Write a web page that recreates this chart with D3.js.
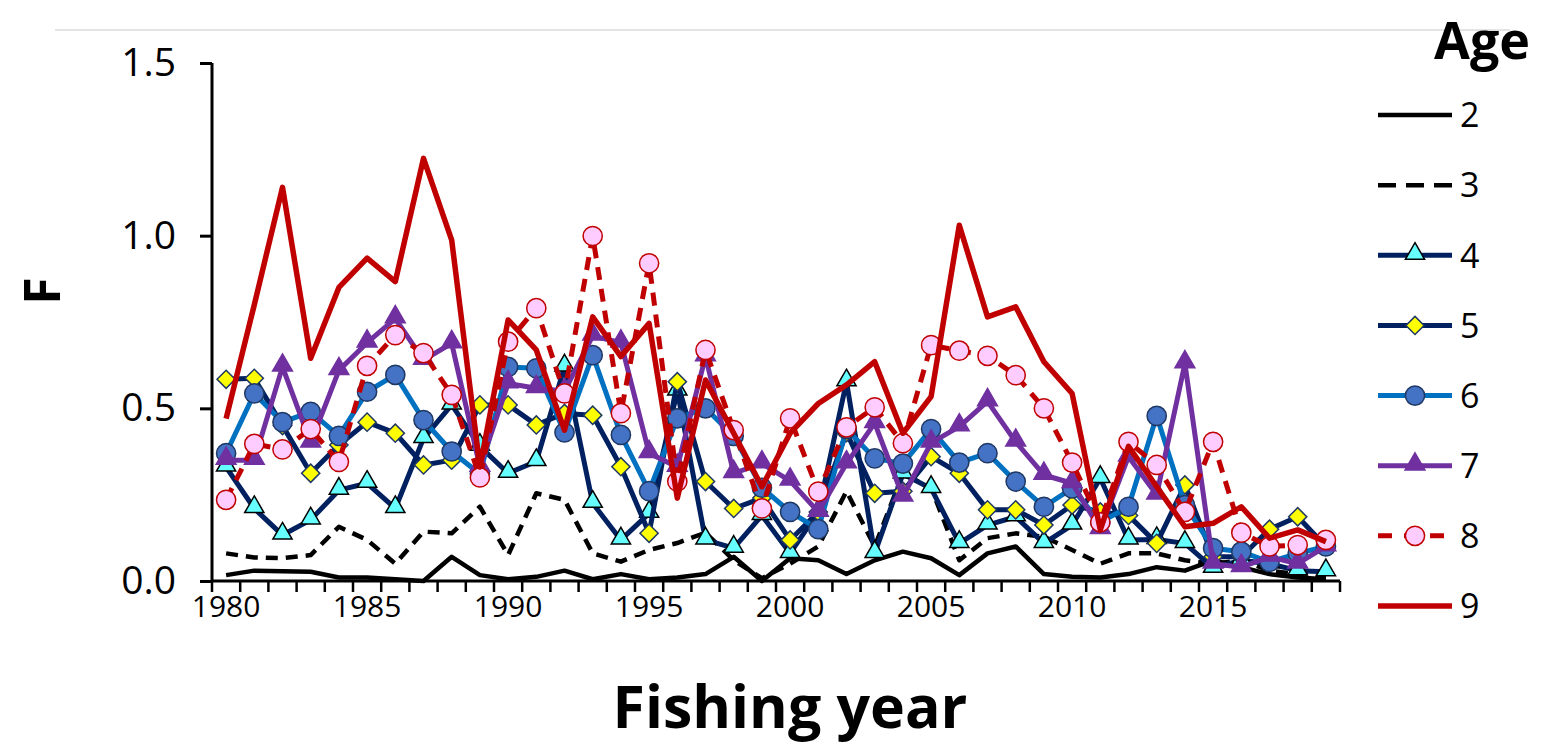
<!DOCTYPE html>
<html><head><meta charset="utf-8">
<script src="https://cdn.jsdelivr.net/npm/d3@7"></script>
<style>
body{margin:0;background:#fff;}
svg{display:block;font-family:"Open Sans",sans-serif;}
</style></head>
<body><svg id="c" width="1542" height="747"></svg>
<script>
const years = d3.range(1980, 2020);
const yTicks = [0, 0.5, 1.0, 1.5];
const xTickYears = [1980,1985,1990,1995,2000,2005,2010,2015];
const ages = ["2","3","4","5","6","7","8","9"];

const age2 = [0.017,0.03,0.028,0.027,0.01,0.01,0.005,0.0,0.07,0.017,0.005,0.012,0.03,0.005,0.02,0.005,0.01,0.02,0.07,0.0,0.066,0.06,0.02,0.06,0.085,0.066,0.017,0.08,0.1,0.02,0.012,0.01,0.02,0.04,0.03,0.06,0.04,0.02,0.01,0.005];
const age3 = [0.08,0.068,0.066,0.075,0.157,0.119,0.05,0.143,0.138,0.215,0.075,0.254,0.235,0.08,0.056,0.09,0.11,0.14,0.06,0.008,0.05,0.1,0.26,0.1,0.31,0.27,0.06,0.124,0.138,0.128,0.09,0.05,0.08,0.08,0.06,0.05,0.06,0.03,0.02,0.01];
const age4 = [0.33,0.21,0.133,0.177,0.263,0.283,0.21,0.413,0.51,0.39,0.312,0.346,0.62,0.225,0.119,0.196,0.55,0.119,0.095,0.19,0.08,0.2,0.577,0.08,0.31,0.268,0.109,0.162,0.186,0.109,0.162,0.297,0.119,0.12,0.109,0.037,0.06,0.05,0.03,0.027];
const age5 = [0.584,0.587,0.45,0.312,0.394,0.46,0.428,0.336,0.35,0.51,0.51,0.452,0.485,0.48,0.331,0.138,0.577,0.288,0.21,0.24,0.119,0.2,0.43,0.254,0.26,0.36,0.312,0.206,0.206,0.162,0.22,0.2,0.19,0.109,0.278,0.07,0.07,0.15,0.186,0.1];
const age6 = [0.37,0.543,0.46,0.49,0.42,0.548,0.597,0.466,0.375,0.31,0.62,0.616,0.43,0.654,0.423,0.26,0.471,0.5,0.42,0.27,0.2,0.15,0.44,0.355,0.34,0.44,0.343,0.37,0.288,0.215,0.268,0.17,0.215,0.478,0.22,0.095,0.085,0.055,0.08,0.1];
const age7 = [0.35,0.35,0.62,0.40,0.61,0.69,0.76,0.64,0.688,0.33,0.572,0.558,0.55,0.71,0.69,0.37,0.33,0.65,0.312,0.34,0.29,0.2,0.34,0.457,0.244,0.4,0.447,0.52,0.403,0.307,0.283,0.15,0.36,0.25,0.63,0.05,0.04,0.07,0.05,0.1];
const age8 = [0.235,0.397,0.381,0.44,0.345,0.623,0.712,0.66,0.539,0.30,0.693,0.79,0.543,0.999,0.486,0.92,0.288,0.669,0.437,0.21,0.471,0.259,0.445,0.503,0.399,0.683,0.667,0.652,0.596,0.5,0.343,0.17,0.403,0.336,0.2,0.403,0.14,0.1,0.104,0.119];
const age9 = [0.47,0.80,1.14,0.645,0.85,0.935,0.867,1.224,0.987,0.33,0.756,0.669,0.437,0.765,0.65,0.746,0.24,0.582,0.428,0.273,0.428,0.514,0.568,0.635,0.428,0.534,1.03,0.765,0.794,0.635,0.543,0.148,0.39,0.273,0.157,0.167,0.215,0.124,0.148,0.114];

const seriesValues = [age2,age3,age4,age5,age6,age7,age8,age9];
const styles = [
  {line:"#000000", w:4.5, dash:null, marker:null},
  {line:"#000000", w:4.5, dash:"12,8", marker:null},
  {line:"#002060", w:5, dash:null, marker:"triangle", fill:"#66FFFF", stroke:"#000000", size:160},
  {line:"#002060", w:5, dash:null, marker:"diamond", fill:"#FFFF00", stroke:"#1F3864", size:165},
  {line:"#0070C0", w:5, dash:null, marker:"circle", fill:"#4472C4", stroke:"#1F3864", size:290},
  {line:"#7030A0", w:5, dash:null, marker:"triangle", fill:"#7030A0", stroke:"#7030A0", size:170},
  {line:"#C00000", w:5, dash:"13,9", marker:"circle", fill:"#FFCCFF", stroke:"#C00000", size:290},
  {line:"#C00000", w:5.5, dash:null, marker:null}
];
const symType = {triangle:d3.symbolTriangle, diamond:d3.symbolSquare, circle:d3.symbolCircle};
const rot = m => m === "diamond" ? " rotate(45)" : "";
const dy = m => m === "triangle" ? -1.5 : 0;

const svg = d3.select("#c");
const x = d3.scaleBand().domain(years).range([212, 1340]);
const y = d3.scaleLinear().domain([0, 1.5]).range([581, 63]);
const cx = d => x(d) + x.bandwidth()/2;

// top rule
svg.append("line").attr("x1",55).attr("x2",1510).attr("y1",30).attr("y2",30)
  .attr("stroke","#c8c8c8").attr("stroke-width",1);

// y axis
const yAxis = svg.append("g").attr("transform","translate(212,0)")
  .call(d3.axisLeft(y).tickValues(yTicks).tickFormat(d3.format(".1f")).tickSize(12).tickPadding(24));
yAxis.select(".domain").attr("stroke","#000").attr("stroke-width",3).attr("d", `M0,${y(1.5)}V${y(0)}`);
yAxis.selectAll(".tick line").attr("stroke","#000").attr("stroke-width",3);
yAxis.selectAll("text").attr("font-size",39).attr("fill","#000").attr("font-family","Open Sans");

// x axis
const xAxis = svg.append("g").attr("transform","translate(0,581)")
  .call(d3.axisBottom(x).tickValues(xTickYears).tickSize(0).tickPadding(15));
xAxis.select(".domain").attr("stroke","#000").attr("stroke-width",3).attr("d", `M${x.range()[0]},0H${x.range()[1]}`);
xAxis.selectAll("text").attr("font-size",30).attr("fill","#000").attr("font-family","Open Sans");
const bounds = years.map(d => x(d)).concat([x.range()[1]]);
svg.append("g").selectAll("line").data(bounds).join("line")
  .attr("x1",d=>d).attr("x2",d=>d).attr("y1",581).attr("y2",592)
  .attr("stroke","#000").attr("stroke-width",2.5);

// axis titles
svg.append("text").attr("transform","translate(60,291) rotate(-90)")
  .attr("text-anchor","middle").attr("font-size",50).attr("font-weight",700)
  .attr("font-family","Open Sans").text("F");
svg.append("text").attr("x",790).attr("y",728).attr("text-anchor","middle")
  .attr("font-size",59).attr("font-weight",700).attr("font-family","Open Sans").text("Fishing year");

// series
const line = d3.line().x((d,i)=>cx(years[i])).y(d=>y(d));
seriesValues.forEach((vals, si) => {
  const st = styles[si];
  const g = svg.append("g");
  g.append("path").datum(vals).attr("d", line).attr("fill","none")
    .attr("stroke", st.line).attr("stroke-width", st.w)
    .attr("stroke-linejoin","round")
    .attr("stroke-dasharray", st.dash);
  if (st.marker) {
    const sym = d3.symbol().type(symType[st.marker]).size(st.size);
    g.selectAll("path.m").data(vals).join("path").attr("class","m")
      .attr("d", sym)
      .attr("transform",(d,i)=>`translate(${cx(years[i])},${y(d) + dy(st.marker)})${rot(st.marker)}`)
      .attr("fill", st.fill).attr("stroke", st.stroke).attr("stroke-width", 1.5);
  }
});

// legend
const leg = svg.append("g");
leg.append("text").attr("x",1530).attr("y",59).attr("text-anchor","end")
  .attr("font-size",52).attr("font-weight",700).attr("font-family","Open Sans").text("Age");
const legY = d3.scalePoint().domain(ages).range([115, 606]);
ages.forEach((a, i) => {
  const st = styles[i];
  const yy = legY(a);
  const gg = leg.append("g");
  gg.append("line").attr("x1",1378).attr("x2",1452).attr("y1",yy).attr("y2",yy)
    .attr("stroke",st.line).attr("stroke-width",st.w).attr("stroke-dasharray", st.dash ? (i===1?"18,10":"14,12") : null);
  if (st.marker) {
    gg.append("path").attr("d", d3.symbol().type(symType[st.marker]).size(st.size)())
      .attr("transform",`translate(1415,${yy + dy(st.marker)})${rot(st.marker)}`)
      .attr("fill",st.fill).attr("stroke",st.stroke).attr("stroke-width",1.5);
  }
  gg.append("text").attr("x",1460).attr("y",yy).attr("dy","0.36em")
    .attr("font-size",34).attr("font-family","Open Sans").text(a);
});
</script></body></html>
